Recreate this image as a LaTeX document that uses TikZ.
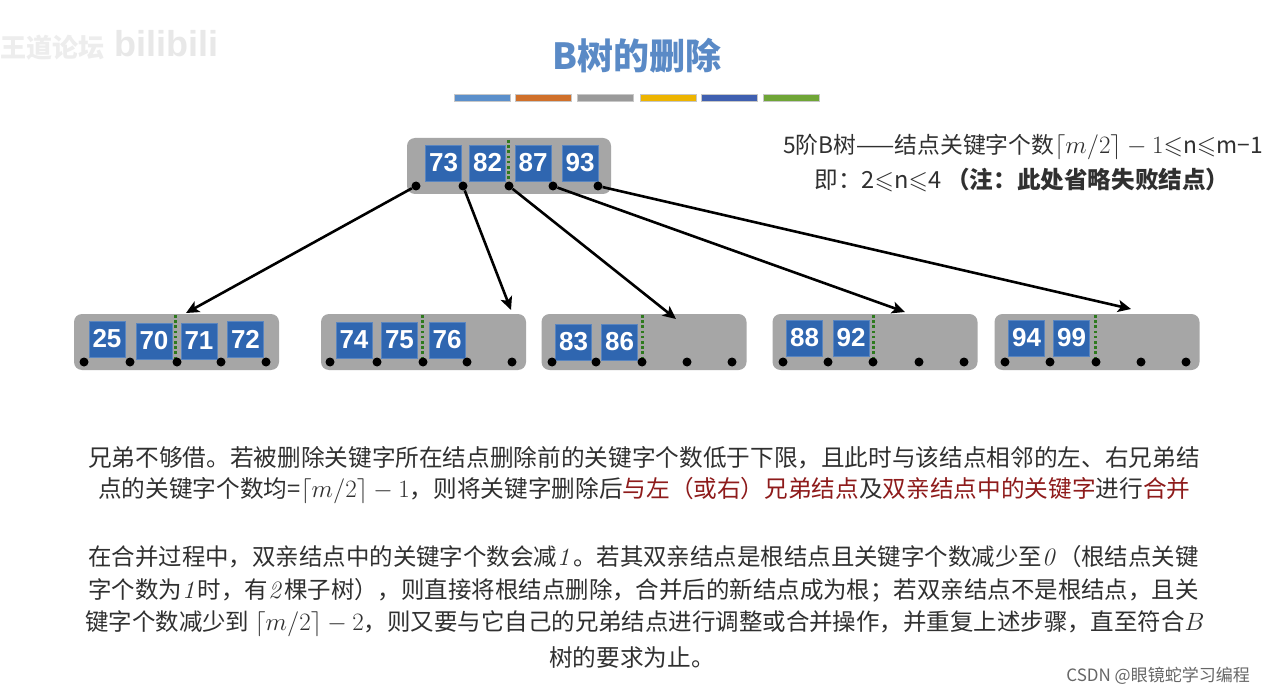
\documentclass[tikz,border=0pt]{standalone}
\usepackage{fix-cm}
\usepackage[no-math]{fontspec}
\usepackage{amssymb}
\setmainfont{Noto Sans CJK SC}
\newfontfamily\numfont{Liberation Sans}
\usetikzlibrary{arrows.meta}
\definecolor{keyblue}{HTML}{2F66B0}
\definecolor{boxgray}{HTML}{A6A6A6}
\definecolor{titleblue}{HTML}{5A8AC6}
\definecolor{deepred}{HTML}{8E1B1B}
\definecolor{sepgreen}{HTML}{2E7A1E}
\definecolor{txt}{HTML}{303030}
\definecolor{barA}{HTML}{5B8FCB}
\definecolor{barB}{HTML}{D0702A}
\definecolor{barC}{HTML}{9A9A9A}
\definecolor{barD}{HTML}{EDB400}
\definecolor{barE}{HTML}{3F5FB0}
\definecolor{barF}{HTML}{6FA536}
\newcommand{\mth}[1]{{\fontsize{25}{26}\selectfont$#1$}}
\tikzset{
  x=1pt,y=-1pt,
  bbox/.style={draw=none,fill=boxgray,rounded corners=8pt,minimum width=205pt,minimum height=56pt,inner sep=0pt},
  keyb/.style={fill=keyblue,draw=keyblue!80!white,line width=.4pt,minimum width=36pt,minimum height=36pt,inner sep=0pt,text=white,font=\numfont\bfseries\fontsize{26}{26}\selectfont},
  ptr/.style={circle,fill=black,minimum size=9pt,inner sep=0pt},
  sepline/.style={sepgreen,line width=3pt,dash pattern=on 2.6pt off 2.6pt},
  conn/.style={black,line width=2.6pt,-{Stealth[length=13pt,width=12pt,inset=3pt]}},
  bar/.style={minimum width=56pt,minimum height=6.5pt,inner sep=0pt,draw=black!22,line width=.5pt},
  para/.style={anchor=west,inner sep=0pt,text=txt,font=\fontsize{23.65}{26}\selectfont},
  paratight/.style={anchor=west,inner sep=0pt,text=txt,font=\fontsize{23.45}{26}\selectfont},
  head/.style={anchor=center,inner sep=0pt,text=txt,font=\fontsize{23.6}{26}\selectfont},
  headfit/.style={anchor=west,inner sep=0pt,text=txt,font=\fontsize{22.8}{26}\selectfont},
}
\newcommand{\kb}[4]{\node[keyb] (#1) at (#2,#3) {#4};}
\newcommand{\pt}[3]{\node[ptr] (#1) at (#2,#3) {};}
\newcommand{\sep}[4]{\coordinate (#1a) at (#2,#3); \coordinate (#1b) at (#2,#4); \draw[sepline] (#1a) -- (#1b);}
\begin{document}
\begin{tikzpicture}
\useasboundingbox (0,0) rectangle (1264,695);
\fill[white] (0,0) rectangle (1264,695);
% watermark
\node[inner sep=0pt,text=black!7,font=\fontsize{26}{26}\selectfont\bfseries] (wm1) at (53,48) {王道论坛};
\node[inner sep=0pt,text=black!9,font=\numfont\bfseries\fontsize{36}{36}\selectfont] (wm2) at (166,44) {bilibili};
% title
\node[inner sep=0pt,text=titleblue,font=\fontsize{36}{36}\selectfont\bfseries] (title) at (637,56) {B树的删除};
\node[bar,fill=barA] (b1) at (482.5,98) {};
\node[bar,fill=barB] (b2) at (543,98) {};
\node[bar,fill=barC] (b3) at (605,98) {};
\node[bar,fill=barD] (b4) at (668,98) {};
\node[bar,fill=barE] (b5) at (729,98) {};
\node[bar,fill=barF] (b6) at (791.5,98) {};
% header note
\node[headfit] (n1) at (783,147) {5阶B树——结点关键字个数\mth{\lceil m/2\rceil-1{\leqslant}}n\mth{{\leqslant}}m−1};
\node[head] (n2) at (1022,180) {即：2\mth{{\leqslant}}n\mth{{\leqslant}}4 \textbf{（注：此处省略失败结点）}};
% root
\node[bbox,minimum width=204pt] (root) at (509,166) {};
\kb{k73}{443.5}{163}{73}\kb{k82}{487.5}{163}{82}\kb{k87}{533}{163}{87}\kb{k93}{580}{163}{93}
\sep{s0}{508}{140}{184}
\pt{r1}{416}{186}\pt{r2}{463}{186}\pt{r3}{509}{186}\pt{r4}{553}{186}\pt{r5}{598}{186}
% leaf 1
\node[bbox] (l1) at (176.5,342) {};
\kb{k25}{107}{339}{25}\kb{k70}{154}{341}{70}\kb{k71}{199}{341}{71}\kb{k72}{245.5}{339}{72}
\sep{s1}{175}{315}{359}
\pt{a1}{84}{362}\pt{a2}{130}{362}\pt{a3}{177}{362}\pt{a4}{221}{362}\pt{a5}{266}{362}
% leaf 2
\node[bbox] (l2) at (423.5,342) {};
\kb{k74}{354}{340}{74}\kb{k75}{399.5}{340}{75}\kb{k76}{447}{340}{76}
\sep{s2}{422}{315}{359}
\pt{c1}{330}{362}\pt{c2}{377}{362}\pt{c3}{423}{362}\pt{c4}{467}{362}\pt{c5}{512}{362}
% leaf 3
\node[bbox] (l3) at (644,342) {};
\kb{k83}{573.5}{342}{83}\kb{k86}{619.5}{342}{86}
\sep{s3}{642}{315}{359}
\pt{d1}{552}{362}\pt{d2}{596}{362}\pt{d3}{642}{362}\pt{d4}{687}{362}\pt{d5}{732}{362}
% leaf 4
\node[bbox] (l4) at (875,342) {};
\kb{k88}{804.5}{338}{88}\kb{k92}{851}{338}{92}
\sep{s4}{873}{315}{359}
\pt{e1}{783}{362}\pt{e2}{828}{362}\pt{e3}{873}{362}\pt{e4}{919}{362}\pt{e5}{964}{362}
% leaf 5
\node[bbox] (l5) at (1097,342) {};
\kb{k94}{1026.5}{338}{94}\kb{k99}{1071.5}{338}{99}
\sep{s5}{1095}{315}{359}
\pt{f1}{1005}{362}\pt{f2}{1050}{362}\pt{f3}{1096}{362}\pt{f4}{1141}{362}\pt{f5}{1186}{362}
% arrows
\coordinate (t1) at (186,313);
\coordinate (t2) at (511,310);
\coordinate (t3) at (676,319);
\coordinate (t4) at (905,312);
\coordinate (t5) at (1131,309);
\draw[conn] (r1) -- (t1);
\draw[conn] (r2) -- (t2);
\draw[conn] (r3) -- (t3);
\draw[conn] (r4) -- (t4);
\draw[conn] (r5) -- (t5);
% text
\node[para] (p1) at (88,458) {兄弟不够借。若被删除关键字所在结点删除前的关键字个数低于下限，且此时与该结点相邻的左、右兄弟结};
\node[para] (p2) at (98,491) {点的关键字个数均=\mth{\lceil m/2\rceil-1}，则将关键字删除后\textcolor{deepred}{与左（或右）兄弟结点}及\textcolor{deepred}{双亲结点中的关键字}进行\textcolor{deepred}{合并}};
\node[paratight] (p3) at (88,557) {在合并过程中，双亲结点中的关键字个数会减\mth{\mathit{1}}。若其双亲结点是根结点且关键字个数减少至\mth{\mathit{0}}（根结点关键};
\node[paratight] (p4) at (88,590) {字个数为\mth{\mathit{1}}时，有\mth{\mathit{2}}棵子树），则直接将根结点删除，合并后的新结点成为根；若双亲结点不是根结点，且关};
\node[paratight] (p5) at (85,624) {键字个数减少到 \mth{\lceil m/2\rceil-2}，则又要与它自己的兄弟结点进行调整或合并操作，并重复上述步骤，直至符合\mth{B}};
\node[inner sep=0pt,text=txt,font=\fontsize{23.65}{26}\selectfont] (p6) at (632,657) {树的要求为止。};
\node[inner sep=0pt,anchor=east,text=black!60,font=\fontsize{17}{20}\selectfont] (csdn) at (1250,676) {CSDN @眼镜蛇学习编程};
\end{tikzpicture}
\end{document}
